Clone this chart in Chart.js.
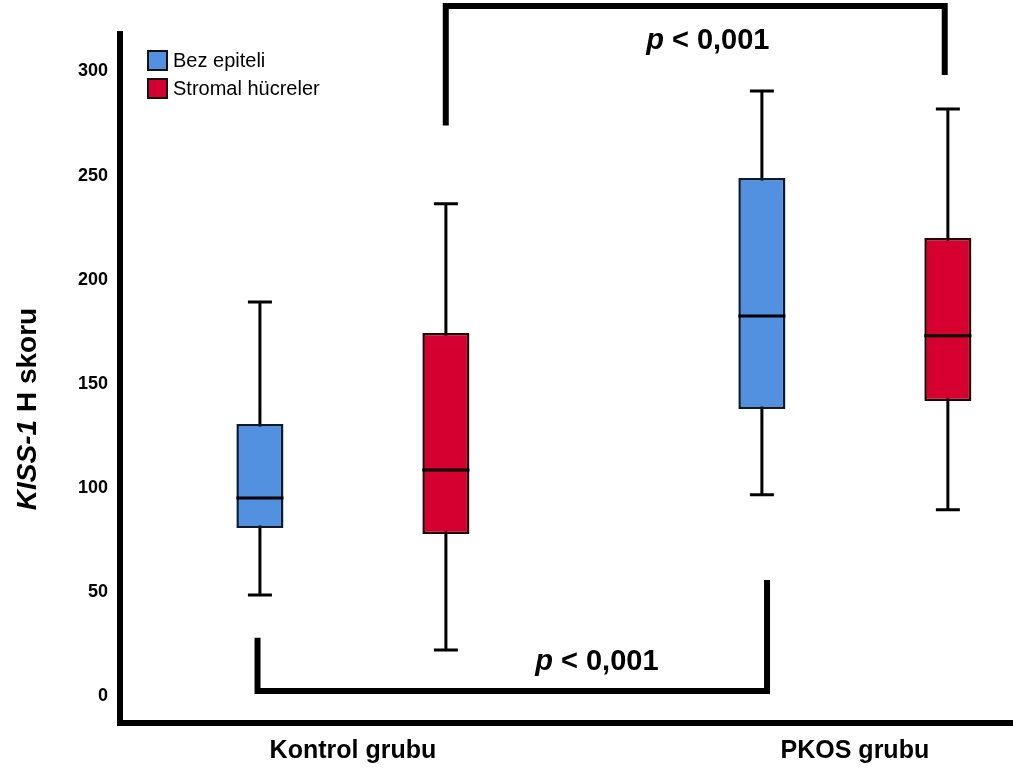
<!DOCTYPE html>
<html>
<head>
<meta charset="utf-8">
<script src="https://cdn.jsdelivr.net/npm/chart.js@4.4.1/dist/chart.umd.min.js"></script>
<style>
  html, body { margin: 0; padding: 0; background: #fff; }
</style>
</head>
<body>
<canvas id="Chart" width="1013" height="772"></canvas>
<script>
const GROUPS = ['Kontrol grubu', 'PKOS grubu'];
const SERIES = ['Bez epiteli', 'Stromal hücreler'];
const COLORS = ['#5290E0', '#D5002F'];
const Y_TICKS = [0, 50, 100, 150, 200, 250, 300];

// box plot summaries, one value per group [Kontrol, PKOS]
const bezMin = [48.5, 96.6];
const bezQ1 = [80.7, 137.9];
const bezMedian = [95.1, 182.5];
const bezQ3 = [130.7, 248.8];
const bezMax = [189.3, 290.6];

const stromaMin = [22.1, 89.4];
const stromaQ1 = [77.8, 141.7];
const stromaMedian = [108.6, 173];
const stromaQ3 = [174.4, 220];
const stromaMax = [236.4, 282];

// significance brackets, in axis units
const BRACKETS = [
    { x1: -0.19, x2: 0.825, y: 2.4, end1: 28, end2: 55.7, tx: 0.486, ty: 16.3 },
    { x1: 0.185, x2: 1.179, y: 331.5, end1: 274, end2: 298.3, tx: 0.707, ty: 314.6 }
];

const FONT = "'Liberation Sans', Arial, sans-serif";

const boxData = (q1, q3) => q1.map((v, i) => ({ x: i, y: [v, q3[i]] }));

const boxPlot = {
    id: 'boxPlot',
    beforeDatasetsDraw(chart) {
        const { ctx, scales: { y } } = chart;
        ctx.save();
        ctx.strokeStyle = '#000';
        ctx.lineWidth = 3;
        chart.data.datasets.forEach((ds, di) => {
            chart.getDatasetMeta(di).data.forEach((bar, i) => {
                const lo = y.getPixelForValue(ds.whiskerLow[i]);
                const hi = y.getPixelForValue(ds.whiskerHigh[i]);
                ctx.beginPath();
                ctx.moveTo(bar.x, lo);
                ctx.lineTo(bar.x, hi);
                ctx.moveTo(bar.x - 12, lo);
                ctx.lineTo(bar.x + 12, lo);
                ctx.moveTo(bar.x - 12, hi);
                ctx.lineTo(bar.x + 12, hi);
                ctx.stroke();
            });
        });
        ctx.restore();
    },
    afterDatasetsDraw(chart) {
        const { ctx, scales: { y } } = chart;
        ctx.save();
        ctx.strokeStyle = '#000';
        ctx.lineWidth = 3;
        chart.data.datasets.forEach((ds, di) => {
            chart.getDatasetMeta(di).data.forEach((bar, i) => {
                const m = y.getPixelForValue(ds.median[i]);
                ctx.beginPath();
                ctx.moveTo(bar.x - bar.width / 2, m);
                ctx.lineTo(bar.x + bar.width / 2, m);
                ctx.stroke();
            });
        });
        ctx.restore();
    }
};

function drawP(ctx, cx, cy, size) {
    const rest = ' < 0,001';
    ctx.font = `italic bold ${size}px ${FONT}`;
    const wp = ctx.measureText('p').width;
    ctx.font = `bold ${size}px ${FONT}`;
    const wr = ctx.measureText(rest).width;
    const x0 = cx - (wp + wr) / 2;
    ctx.textAlign = 'left';
    ctx.textBaseline = 'middle';
    ctx.font = `italic bold ${size}px ${FONT}`;
    ctx.fillText('p', x0, cy);
    ctx.font = `bold ${size}px ${FONT}`;
    ctx.fillText(rest, x0 + wp, cy);
}

const extras = {
    id: 'extras',
    afterDraw(chart) {
        const { ctx, chartArea, scales: { x, y } } = chart;
        ctx.save();
        ctx.fillStyle = '#000';
        ctx.strokeStyle = '#000';

        // brackets with p values
        ctx.lineWidth = 6;
        ctx.lineJoin = 'miter';
        BRACKETS.forEach(b => {
            const px1 = x.getPixelForValue(b.x1), px2 = x.getPixelForValue(b.x2);
            const py = y.getPixelForValue(b.y);
            ctx.beginPath();
            ctx.moveTo(px1, y.getPixelForValue(b.end1));
            ctx.lineTo(px1, py);
            ctx.lineTo(px2, py);
            ctx.lineTo(px2, y.getPixelForValue(b.end2));
            ctx.stroke();
            drawP(ctx, x.getPixelForValue(b.tx), y.getPixelForValue(b.ty), 29);
        });

        // y axis title, KISS-1 in italics
        const t1 = 'KISS-1', t2 = ' H skoru';
        ctx.save();
        ctx.translate(28, 409);
        ctx.rotate(-Math.PI / 2);
        ctx.font = `italic bold 28px ${FONT}`;
        const w1 = ctx.measureText(t1).width;
        ctx.font = `bold 28px ${FONT}`;
        const w2 = ctx.measureText(t2).width;
        ctx.textBaseline = 'middle';
        ctx.textAlign = 'left';
        ctx.font = `italic bold 28px ${FONT}`;
        ctx.fillText(t1, -(w1 + w2) / 2, 0);
        ctx.font = `bold 28px ${FONT}`;
        ctx.fillText(t2, -(w1 + w2) / 2 + w1, 0);
        ctx.restore();

        // legend in the top left corner
        ctx.font = `20px ${FONT}`;
        ctx.textBaseline = 'middle';
        ctx.textAlign = 'left';
        chart.data.datasets.forEach((ds, i) => {
            const bx = chartArea.left + 28, by = chartArea.top + 17 + i * 28;
            ctx.fillStyle = ds.backgroundColor;
            ctx.fillRect(bx, by, 19, 19);
            ctx.lineWidth = 2;
            ctx.strokeStyle = '#111';
            ctx.strokeRect(bx, by, 19, 19);
            ctx.fillStyle = '#000';
            ctx.fillText(ds.label, bx + 25, by + 10);
        });
        ctx.restore();
    }
};

const data = {
    datasets: [
        {
            label: SERIES[0],
            data: boxData(bezQ1, bezQ3),
            whiskerLow: bezMin,
            whiskerHigh: bezMax,
            median: bezMedian,
            backgroundColor: COLORS[0],
            borderColor: '#0b1a30',
            borderWidth: 2.5,
            borderSkipped: false
        },
        {
            label: SERIES[1],
            data: boxData(stromaQ1, stromaQ3),
            whiskerLow: stromaMin,
            whiskerHigh: stromaMax,
            median: stromaMedian,
            backgroundColor: COLORS[1],
            borderColor: '#220006',
            borderWidth: 2.5,
            borderSkipped: false
        }
    ]
};

const config = {
    type: 'bar',
    data,
    options: {
        responsive: false,
        animation: false,
        categoryPercentage: 0.741,
        barPercentage: 0.253,
        layout: { padding: { top: 34, right: 0, left: 0, bottom: 0 } },
        scales: {
            x: {
                type: 'linear',
                offset: false,
                min: -0.464,
                max: 1.315,
                afterBuildTicks: (s) => { s.ticks = GROUPS.map((g, i) => ({ value: i })); },
                afterFit: (s) => { s.height = 49; },
                grid: { display: false, drawTicks: false },
                border: { display: true, color: '#000', width: 6 },
                ticks: {
                    padding: 13,
                    color: '#000',
                    font: { family: FONT, size: 25, weight: 'bold' },
                    callback: (v) => GROUPS[Math.round(v)]
                }
            },
            y: {
                min: -13,
                max: 318,
                afterBuildTicks: (s) => { s.ticks = Y_TICKS.map(v => ({ value: v })); },
                afterFit: (s) => { s.width = 120; },
                grid: { display: false, drawTicks: false },
                border: { display: true, color: '#000', width: 6 },
                ticks: {
                    padding: 12,
                    color: '#000',
                    font: { family: FONT, size: 18, weight: 'bold' }
                }
            }
        },
        plugins: {
            legend: { display: false },
            tooltip: { enabled: false }
        }
    },
    plugins: [boxPlot, extras]
};

const myChart = new Chart(document.getElementById('Chart'), config);
</script>
</body>
</html>
